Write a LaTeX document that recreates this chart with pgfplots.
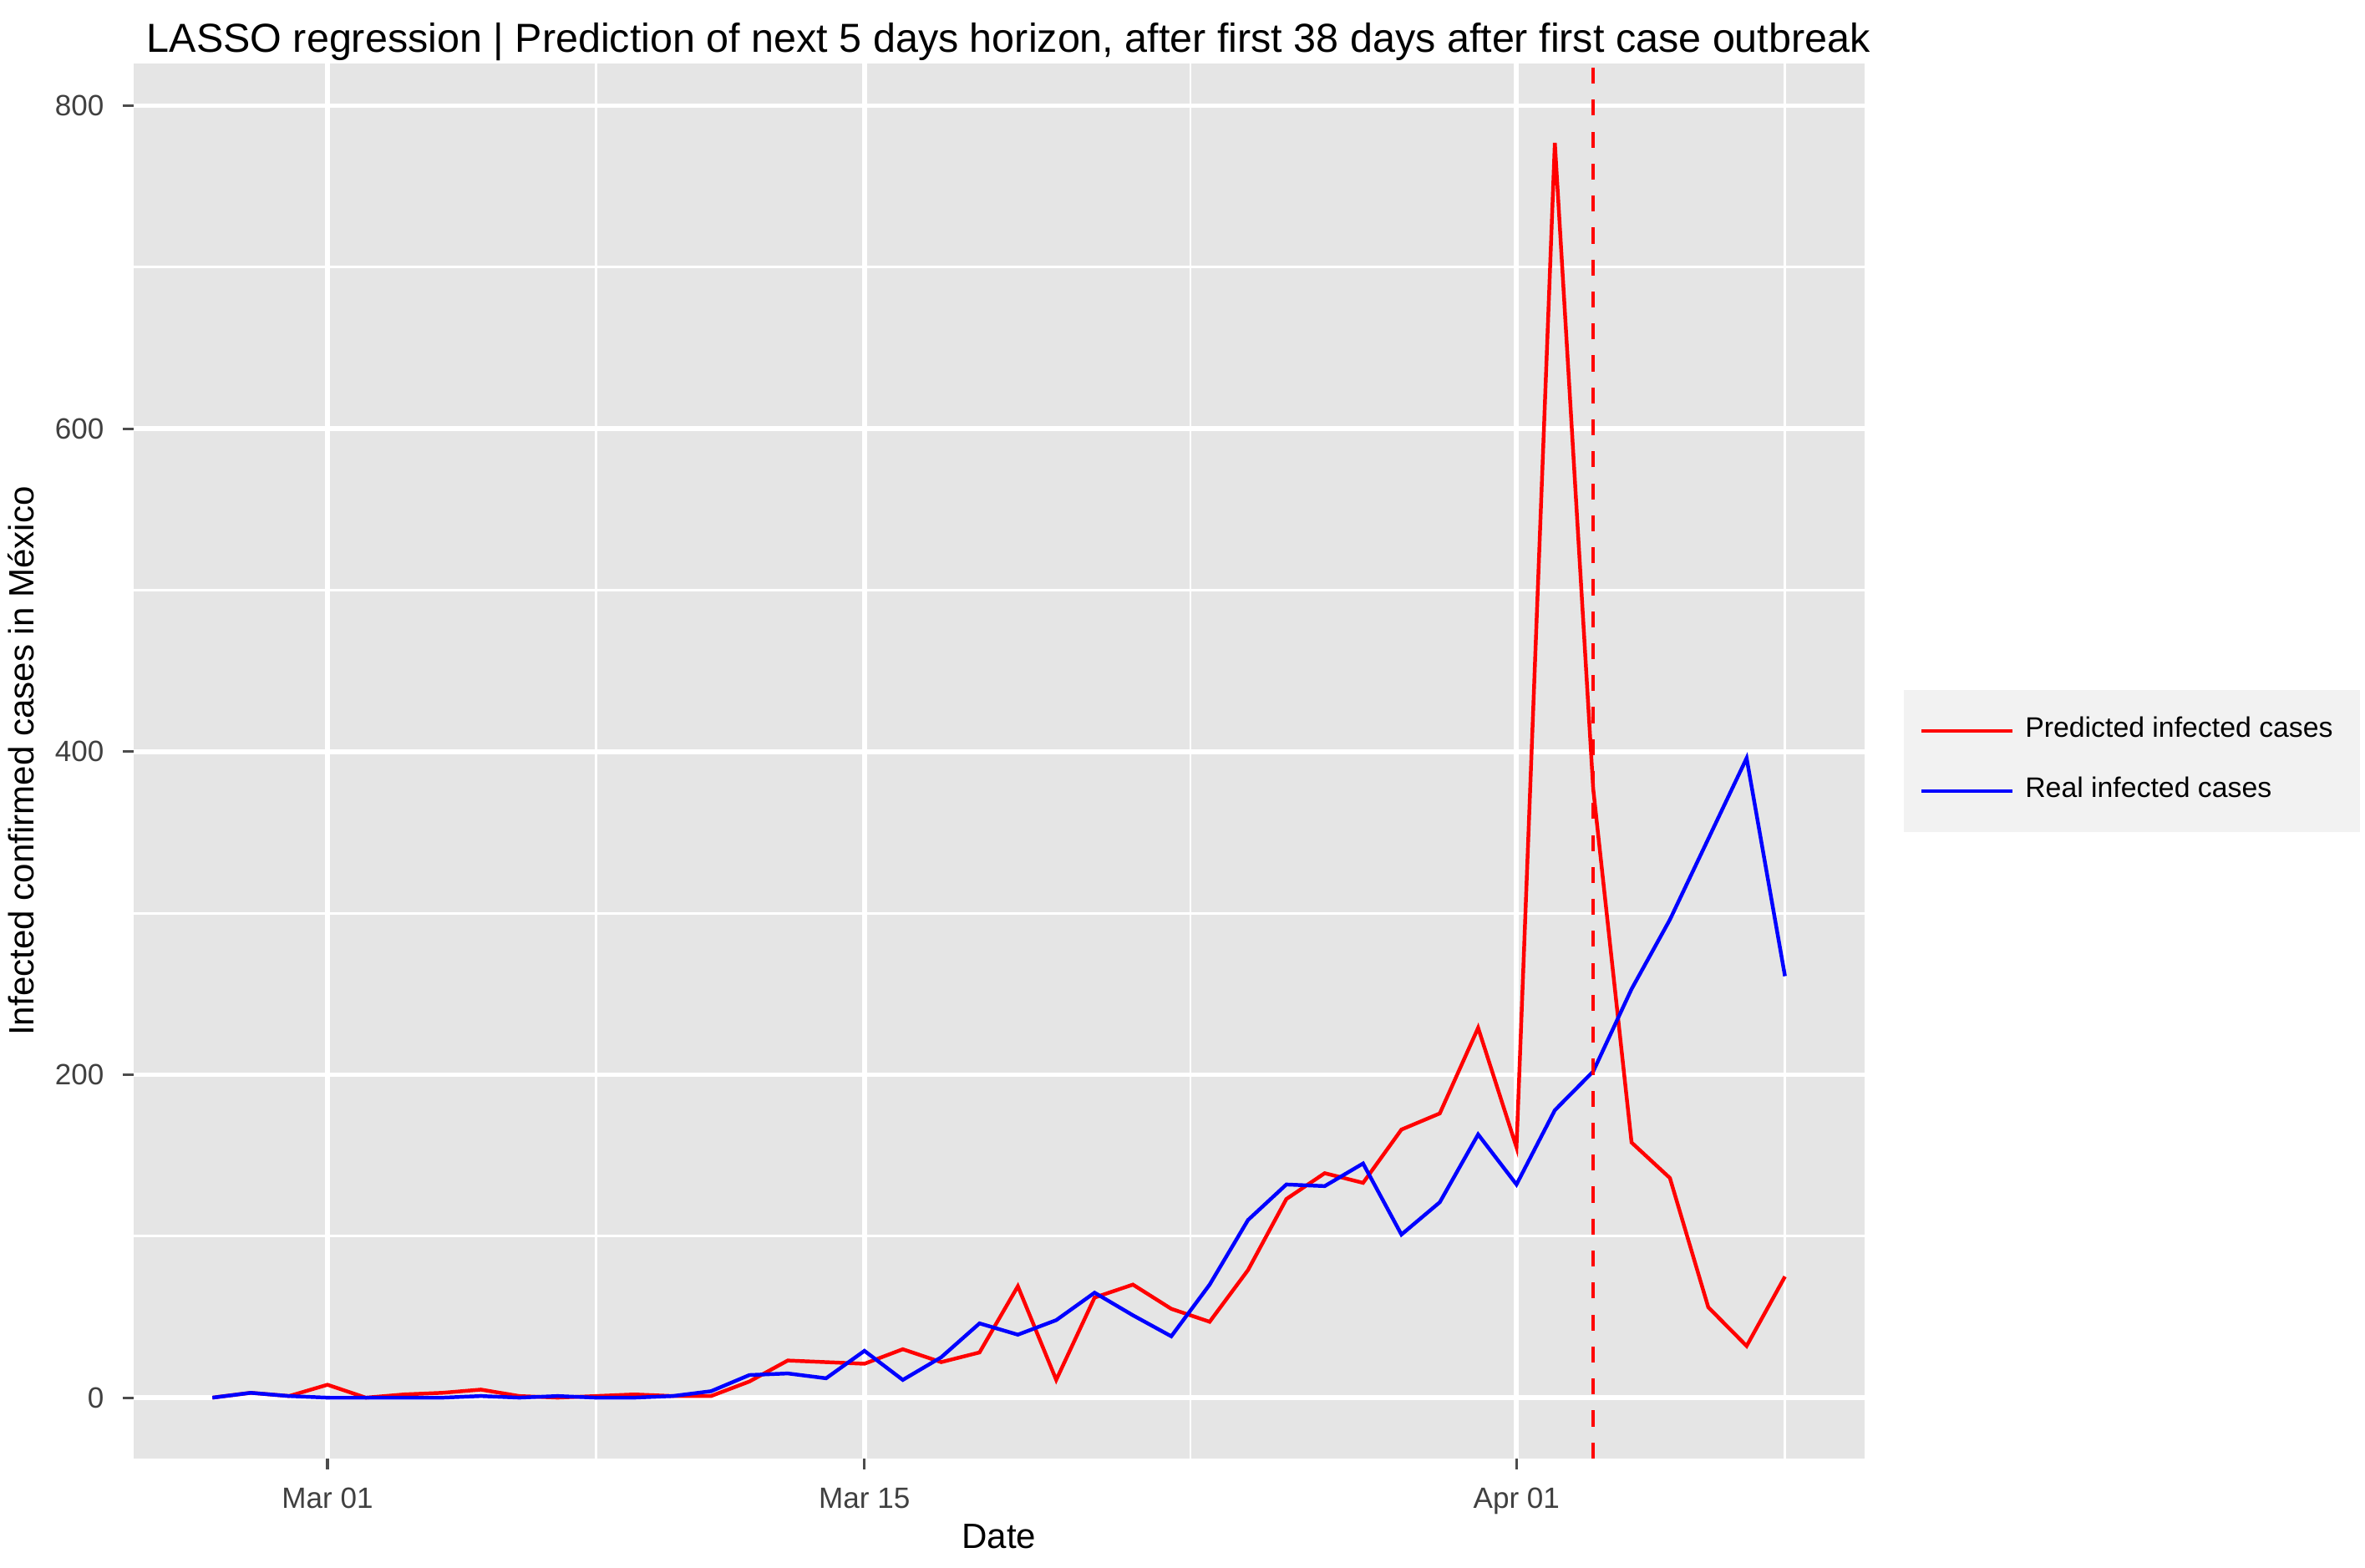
\documentclass[border=0pt]{standalone}
\usepackage{pgfplots}
\pgfplotsset{compat=1.18}
\usepackage{fontspec}
\setmainfont{Liberation Sans}
\begin{document}
\begin{tikzpicture}
\path[use as bounding box] (-0.88,-0.72) rectangle (14.72,9.62);
\begin{axis}[
  at={(0,0)}, anchor=south west,
  width=11.42cm, height=9.2cm, scale only axis,
  xmin=-5.06, xmax=40.08, ymin=-37.6, ymax=826,
  axis background/.style={fill=black!10},
  axis line style={draw=none},
  xtick={0,14,31}, xticklabels={Mar 01,Mar 15,Apr 01},
  minor xtick={7,22.5,38},
  ytick={0,200,400,600,800}, minor ytick={100,300,500,700},
  grid=both,
  major grid style={white, line width=0.9pt},
  minor grid style={white, line width=0.45pt},
  tick style={black!70, line width=0.5pt},
  major tick length=2pt, minor tick length=0pt,
  tick align=outside, xtick pos=bottom, ytick pos=left,
  ticklabel style={font=\fontsize{5.5}{6}\selectfont, text=black!75},
  /pgf/number format/assume math mode=true,
  xlabel={Date}, ylabel={Infected confirmed cases in México},
  label style={font=\fontsize{6.6}{7}\selectfont},
  xlabel style={yshift=5pt}, ylabel style={yshift=-3pt},
  title={LASSO regression | Prediction of next 5 days horizon, after first 38 days after first case outbreak},
  title style={font=\fontsize{7.6}{8}\selectfont, anchor=south west, at={(0,1)}, xshift=-1pt, yshift=-9pt},
  legend style={at={(1.022,0.5)}, anchor=west, draw=none, fill=black!5,
    font=\fontsize{5.3}{6}\selectfont, row sep=2pt, inner sep=3pt},
  legend cell align=left,
]
\addplot[red, line width=0.7pt] coordinates {
(-3,0)(-2,3)(-1,1)(0,8)(1,0)(2,2)(3,3)(4,5)(5,1)(6,0)(7,1)(8,2)(9,1)(10,1)
(11,10)(12,23)(13,22)(14,21)(15,30)(16,22)(17,28)(18,69)(19,11)(20,62)(21,70)
(22,55)(23,47)(24,79)(25,123)(26,139)(27,133)(28,166)(29,176)(30,229)(31,155)
(32,777)(33,377)(34,158)(35,136)(36,56)(37,32)(38,75)};
\addlegendentry{Predicted infected cases}
\addplot[blue, line width=0.7pt] coordinates {
(-3,0)(-2,3)(-1,1)(0,0)(1,0)(2,0)(3,0)(4,1)(5,0)(6,1)(7,0)(8,0)(9,1)(10,4)
(11,14)(12,15)(13,12)(14,29)(15,11)(16,25)(17,46)(18,39)(19,48)(20,65)(21,51)
(22,38)(23,70)(24,110)(25,132)(26,131)(27,145)(28,101)(29,121)(30,163)(31,132)
(32,178)(33,202)(34,253)(35,296)(36,346)(37,396)(38,261)};
\addlegendentry{Real infected cases}
\draw[red, dashed, line width=0.7pt] (axis cs:33,-37.6) -- (axis cs:33,826);
\end{axis}
\end{tikzpicture}
\end{document}
